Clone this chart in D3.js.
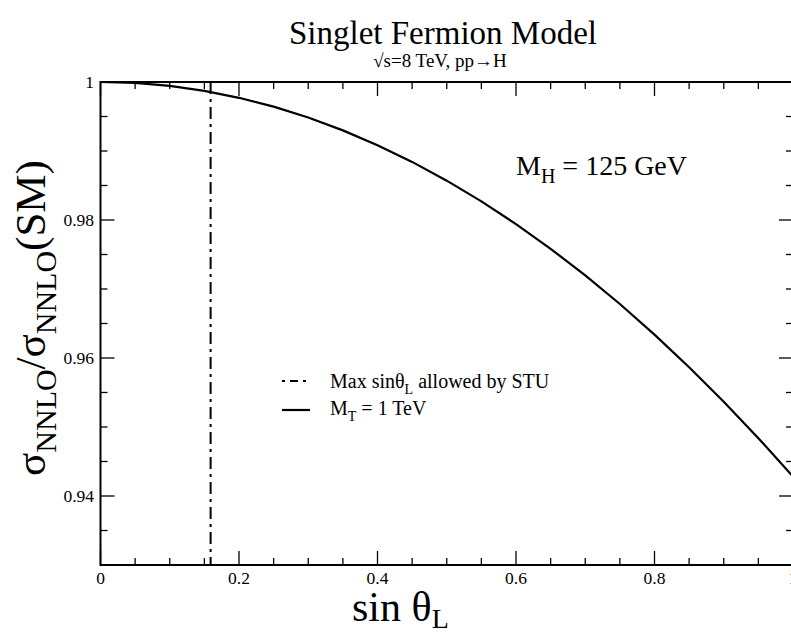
<!DOCTYPE html>
<html><head><meta charset="utf-8">
<script src="https://cdn.jsdelivr.net/npm/d3@7"></script>
<style>
html,body{margin:0;padding:0;background:#fff;}
</style></head>
<body>
<svg id="chart" width="791" height="635"></svg>
<script>
// Data
const sinThetaL = [0,0.05,0.1,0.15,0.2,0.25,0.3,0.35,0.4,0.45,0.5,0.55,0.6,0.65,0.7,0.75,0.8,0.85,0.9,0.95,1.0];
const ratioMT1TeV = [1.0000,0.99986,0.99943,0.99871,0.99771,0.99643,0.99485,0.99299,0.99085,0.98842,0.98570,0.98270,0.97941,0.97583,0.97197,0.96783,0.96339,0.95867,0.95367,0.94838,0.94280];
const maxSinThetaSTU = [0.159];
const xTickValues = [0,0.2,0.4,0.6,0.8,1.0];
const xTickLabels = ["0","0.2","0.4","0.6","0.8","1"];
const yTickValues = [0.94,0.96,0.98,1.0];
const yTickLabels = ["0.94","0.96","0.98","1"];
const xDomain = [0,1];
const yDomain = [0.93,1.0];

const FONT = "'Liberation Serif'";
const svg = d3.select("#chart");
const L = 100.5, R = 793, T = 82, B = 565;
const x = d3.scaleLinear().domain(xDomain).range([L,R]);
const y = d3.scaleLinear().domain(yDomain).range([B,T]);

const xMinor = d3.range(0,1.0001,0.05);
const yMinor = d3.range(0.93,1.0001,0.005);
const isMajorX = v => xTickValues.some(t=>Math.abs(t-v)<1e-6);
const isMajorY = v => yTickValues.some(t=>Math.abs(t-v)<1e-6);

// ticks (inward on all sides)
const tk = svg.append("g").attr("stroke","#000").attr("stroke-width",1.3);
xMinor.forEach(v=>{
  const len = isMajorX(v)?14:7;
  tk.append("line").attr("x1",x(v)).attr("x2",x(v)).attr("y1",B).attr("y2",B-len);
  tk.append("line").attr("x1",x(v)).attr("x2",x(v)).attr("y1",T).attr("y2",T+len);
});
yMinor.forEach(v=>{
  const len = isMajorY(v)?14:7;
  tk.append("line").attr("x1",L).attr("x2",L+len).attr("y1",y(v)).attr("y2",y(v));
  tk.append("line").attr("x1",R).attr("x2",R-len).attr("y1",y(v)).attr("y2",y(v));
});

// frame
svg.append("rect").attr("x",L).attr("y",T).attr("width",R-L).attr("height",B-T)
  .attr("fill","none").attr("stroke","#000").attr("stroke-width",2);

const txt = (xx,yy,size) => svg.append("text").attr("x",xx).attr("y",yy)
  .attr("font-size",size).style("font-family",FONT).attr("fill","#000");

// tick labels
xTickValues.forEach((v,i)=>{
  txt(x(v),584,17.5).attr("text-anchor","middle").text(xTickLabels[i]);
});
yTickValues.forEach((v,i)=>{
  txt(94,y(v)+6,17.5).attr("text-anchor","end").text(yTickLabels[i]);
});

// curve
const line = d3.line().x((d,i)=>x(sinThetaL[i])).y(d=>y(d));
svg.append("path").datum(ratioMT1TeV).attr("d",line)
  .attr("fill","none").attr("stroke","#000").attr("stroke-width",2.2);

// vertical dash-dot line
svg.append("line").attr("x1",x(maxSinThetaSTU[0])).attr("x2",x(maxSinThetaSTU[0]))
  .attr("y1",y(yDomain[1])).attr("y2",y(yDomain[0]))
  .attr("stroke","#000").attr("stroke-width",2).attr("stroke-dasharray","12,5,3,5");

// title
txt(443,44,33).attr("text-anchor","middle").text("Singlet Fermion Model");
txt(440,67,19).attr("text-anchor","middle").text("√s=8 TeV, pp→H");

// M_H label
const mh = txt(516,175,28);
mh.append("tspan").text("M");
mh.append("tspan").attr("font-size",20).attr("dy",8).text("H");
mh.append("tspan").attr("dy",-8).text(" = 125 GeV");

// legend
svg.append("line").attr("x1",282).attr("x2",310).attr("y1",381).attr("y2",381)
  .attr("stroke","#000").attr("stroke-width",2).attr("stroke-dasharray","3,5,8,5");
const l1 = txt(330,388,20);
l1.append("tspan").text("Max sinθ");
l1.append("tspan").attr("font-size",14).attr("dy",6).text("L");
l1.append("tspan").attr("dy",-6).text(" allowed by STU");
svg.append("line").attr("x1",282).attr("x2",310).attr("y1",410).attr("y2",410)
  .attr("stroke","#000").attr("stroke-width",2.2);
const l2 = txt(330,415,20);
l2.append("tspan").text("M");
l2.append("tspan").attr("font-size",14).attr("dy",6).text("T");
l2.append("tspan").attr("dy",-6).text(" = 1 TeV");

// x axis title
const xt = txt(352,621,42);
xt.append("tspan").text("sin θ");
xt.append("tspan").attr("font-size",28).attr("dy",7).text("L");

// y axis title
const yt = svg.append("text").attr("transform","translate(45,318) rotate(-90)")
  .attr("text-anchor","middle").attr("font-size",43).style("font-family",FONT);
yt.append("tspan").text("σ");
yt.append("tspan").attr("font-size",30).attr("dy",11).text("NNLO");
yt.append("tspan").attr("dy",-11).text("/σ");
yt.append("tspan").attr("font-size",30).attr("dy",11).text("NNLO");
yt.append("tspan").attr("dy",-11).text("(SM)");
</script>
</body></html>
